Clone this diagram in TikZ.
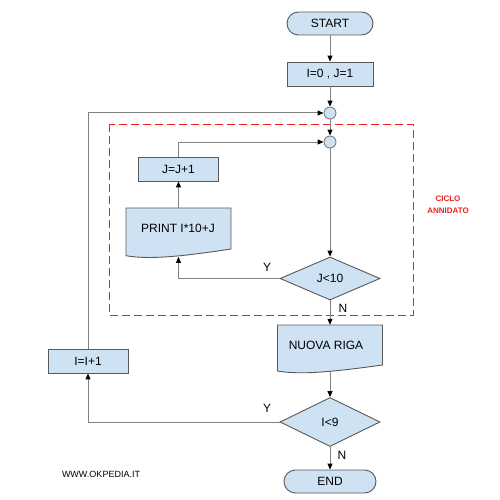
\documentclass[tikz,border=0pt]{standalone}
\usepackage{fontspec}
\setmainfont{Liberation Sans}
\usetikzlibrary{shapes.geometric,arrows.meta}
\definecolor{boxblue}{HTML}{CFE2F3}
\definecolor{edgegray}{HTML}{595959}
\definecolor{conn}{HTML}{808080}
\definecolor{loopred}{HTML}{F02020}
\begin{document}
\begin{tikzpicture}[x=1pt,y=-1pt,
 base/.style={draw=edgegray, fill=boxblue, line width=0.9pt, inner sep=0pt, font=\fontsize{12}{14}\selectfont},
 procbox/.style={base, rectangle, minimum width=#1, minimum height=24pt},
 term/.style={base, rectangle, rounded corners=11.5pt, minimum height=23pt, minimum width=#1},
 decision/.style={base, diamond, minimum width=100pt, minimum height=#1, aspect=2},
 junction/.style={base, draw=conn, circle, minimum size=12pt},
 docframe/.style={inner sep=0pt, minimum width=105pt, minimum height=#1},
 docfill/.style={draw=edgegray, fill=boxblue, line width=0.9pt},
 txt/.style={inner sep=0pt, font=\fontsize{12}{14}\selectfont},
 flow/.style={draw=conn, line width=1pt, -{Triangle[length=6pt,width=5pt,color=black]}},
 ]
\useasboundingbox (0,0) rectangle (500,500);

% nested loop frame
\draw[loopred, dash pattern=on 8pt off 4pt, line width=0.9pt] (109,124) rectangle (413,315);
\node[font=\fontsize{8}{12}\selectfont\bfseries, text=loopred, align=center, inner sep=0pt] (ciclo) at (448,205) {CICLO\\ANNIDATO};

% nodes
\node[term=86pt] (start) at (330,23.5) {START};
\node[procbox=86pt] (init) at (330,74) {I=0 , J=1};
\node[junction] (c1) at (330,113) {};
\node[junction] (c2) at (330,142) {};
\node[procbox=80pt] (jj) at (178.5,169) {J=J+1};

% PRINT document
\node[docframe=48.7pt] (print) at (178.5,232.35) {};
\path[docfill] (126,208) -- (231,208) -- (231,249) .. controls (185,256) and (150,260) .. (126,255.7) -- cycle;
\node[txt] (printtxt) at (178,228.5) {PRINT I*10+J};

\node[decision=43pt] (d1) at (330,278.5) {J<10};

% NUOVA RIGA document
\node[docframe=47pt] (nuova) at (330,348.5) {};
\path[docfill] (277.5,325) -- (382.5,325) -- (382.5,365) .. controls (336.5,371.3) and (301.5,375.3) .. (277.5,371) -- cycle;
\node[txt] (nuovatxt) at (326,345.5) {NUOVA RIGA};

\node[decision=49pt] (d2) at (330,422) {I<9};
\node[procbox=80pt] (ii) at (88,361) {I=I+1};
\node[term=92pt] (endt) at (330,481.5) {END};

\node[inner sep=0pt, font=\fontsize{9}{11}\selectfont] (www) at (101,474) {WWW.OKPEDIA.IT};

% connectors
\draw[flow] (start) -- (init);
\draw[flow] (init) -- (c1);
\draw[flow] (c1) -- (c2);
\draw[flow] (c2) -- (d1);
\draw[flow] (d1.west) -| (print.south);
\draw[flow] (print.north) -- (jj.south);
\draw[flow] (jj.north) |- (c2.west);
\draw[flow] (d1.south) -- (nuova.north);
\draw[flow] (nuova.south) -- (d2.north);
\draw[flow] (d2.west) -| (ii.south);
\draw[flow] (d2.south) -- (endt.north);
\draw[flow] (ii.north) |- (c1.west);

% branch labels
\node[txt] (y1) at (267,267) {Y};
\node[txt] (n1) at (343,308) {N};
\node[txt] (y2) at (267,408) {Y};
\node[txt] (n2) at (342,455) {N};
\end{tikzpicture}
\end{document}
